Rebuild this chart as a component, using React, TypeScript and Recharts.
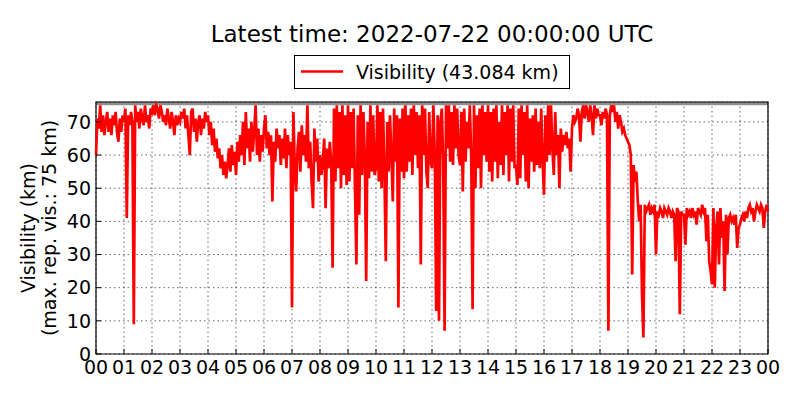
import {
  CartesianGrid,
  Legend,
  Line,
  LineChart,
  ReferenceArea,
  XAxis,
  YAxis,
} from "recharts";

// one reading every 3 minutes, 20 per hour
const STEP_MIN = 3;

const VIS_00_04 = [
  60, 71, 68, 75, 67, 72, 66, 70, 73, 67, 71, 66, 72, 69, 73, 67, 64, 71, 67, 72,
  70, 74, 41, 72, 69, 73, 70, 9, 75, 70, 73, 68, 74, 71, 69, 75, 70, 72, 68, 74,
  73, 75, 72, 75, 74, 71, 75, 73, 70, 72, 69, 74, 71, 68, 73, 70, 66, 72, 69, 71,
  70, 73, 71, 74, 68, 72, 66, 60, 73, 74, 67, 71, 64, 70, 72, 66, 71, 68, 73, 70,
];

const VIS_04_08 = [
  72, 66, 70, 63, 68, 61, 65, 59, 62, 56, 60, 54, 58, 53, 57, 62, 55, 63, 57, 61,
  54, 64, 58, 66, 60, 70, 57, 73, 62, 68, 58, 70, 61, 67, 75, 60, 68, 58, 66, 61,
  68, 72, 62, 67, 60, 66, 46, 64, 58, 68, 62, 66, 57, 65, 59, 68, 56, 66, 60, 64,
  14, 73, 56, 49, 62, 67, 55, 69, 60, 66, 58, 75, 56, 64, 52, 44, 68, 58, 65, 52,
];

const VIS_08_12 = [
  60, 54, 58, 65, 44, 62, 56, 64, 58, 26, 74, 52, 75, 56, 73, 50, 75, 54, 72, 51,
  75, 52, 73, 56, 74, 50, 27, 72, 42, 75, 54, 73, 60, 22, 70, 53, 75, 55, 72, 54,
  56, 75, 52, 73, 50, 74, 55, 28, 70, 55, 72, 60, 46, 74, 58, 72, 14, 71, 55, 74,
  53, 75, 55, 72, 58, 74, 54, 75, 60, 73, 56, 72, 27, 75, 60, 74, 55, 50, 73, 58,
];

const VIS_12_16 = [
  56, 75, 60, 13, 72, 10, 70, 74, 58, 7, 75, 62, 75, 58, 73, 57, 75, 62, 74, 60,
  57, 73, 49, 74, 58, 70, 62, 75, 60, 13.5, 75, 50, 72, 56, 74, 50, 75, 60, 73, 58,
  75, 55, 73, 52, 74, 58, 75, 53, 70, 57, 75, 54, 73, 60, 75, 52, 74, 58, 75, 56,
  57, 51, 74, 53, 75, 60, 73, 52, 75, 50, 71, 58, 72, 55, 74, 57, 70, 56, 74, 58,
];

const VIS_16_20 = [
  48, 72, 58, 75, 60, 75, 62, 54, 73, 60, 66, 50, 68, 61, 66, 63, 67, 62, 65, 55,
  68, 72, 70, 71, 74, 72, 64, 73, 75, 71, 75, 73, 70, 75, 72, 66, 75, 71, 74, 72,
  72, 69, 73, 71, 74, 72, 7, 72, 75, 73, 75, 70, 73, 68, 72, 70, 67, 68, 66, 65,
  64, 63, 60, 24, 57, 52, 55, 46, 40, 45, 18, 5, 45, 43, 44, 45, 42, 44, 43, 45,
];

const VIS_20_24 = [
  30, 43, 42, 44, 43, 41, 44, 43, 42, 44, 43, 41, 43, 42, 28, 44, 43, 12, 43, 42,
  42, 33, 44, 42, 43, 41, 44, 42, 43, 39, 44, 43, 42, 45, 43, 44, 34, 42, 28, 25,
  21, 44, 20, 38, 43, 27, 44, 35, 40, 19, 42, 30, 41, 42, 40, 41, 39, 42, 32, 38,
  39, 41, 42, 40, 43, 41, 44, 45, 43, 44, 40, 43, 45, 44, 43, 45, 44, 38, 43, 45,
];

// latest reading (24:00)
const VIS_END = 43.084;

const HOUR_TICKS = [
  0, 1, 2, 3, 4, 5, 6, 7, 8, 9, 10, 11, 12, 13, 14, 15, 16, 17, 18, 19, 20,
  21, 22, 23, 24,
];
const HOUR_LABELS = [
  "00", "01", "02", "03", "04", "05", "06", "07", "08", "09", "10", "11",
  "12", "13", "14", "15", "16", "17", "18", "19", "20", "21", "22", "23", "00",
];
const VIS_TICKS = [0, 10, 20, 30, 40, 50, 60, 70];

const Y_MAX = 76;
const MAX_REP_VIS = 75;

const TITLE = "Latest time: 2022-07-22 00:00:00 UTC";
const FONT = "'DejaVu Sans', sans-serif";
const RED = "#ff0000";

const SEGMENTS = [VIS_00_04, VIS_04_08, VIS_08_12, VIS_12_16, VIS_16_20, VIS_20_24];

function buildSeries() {
  const values = [...SEGMENTS.flat(), VIS_END];
  return values.map((v, i) => ({ hour: (i * STEP_MIN) / 60, vis: v }));
}

const data = buildSeries();

function YLabel({ viewBox }: { viewBox?: { x: number; y: number; width: number; height: number } }) {
  if (!viewBox) return null;
  const cy = viewBox.y + viewBox.height / 2;
  const x1 = viewBox.x + 34.5;
  const x2 = viewBox.x + 55.5;
  return (
    <g fontFamily={FONT} fontSize={19} fill="#000">
      <text x={x1} y={cy} textAnchor="middle" transform={`rotate(-90 ${x1} ${cy})`}>
        Visibility (km)
      </text>
      <text x={x2} y={cy} textAnchor="middle" transform={`rotate(-90 ${x2} ${cy})`}>
        (max. rep. vis.: {MAX_REP_VIS} km)
      </text>
    </g>
  );
}

function LegendBox() {
  return (
    <svg width={276} height={34} style={{ display: "block" }}>
      <rect x={0.5} y={0.5} width={275} height={33} fill="#fff" stroke="#000" />
      <line x1={7} x2={49} y1={16.5} y2={16.5} stroke={RED} strokeWidth={2.7} />
      <text x={62} y={24} fontSize={19} fontFamily={FONT} fill="#000">
        Visibility ({VIS_END.toFixed(3)} km)
      </text>
    </svg>
  );
}

export default function App() {
  const tickStyle = { fill: "#000", fontSize: 19, fontFamily: FONT };
  return (
    <div
      style={{
        position: "absolute",
        left: 0,
        top: 0,
        width: 800,
        height: 400,
        background: "#fff",
        fontFamily: FONT,
      }}
    >
      <svg
        width={800}
        height={60}
        style={{ position: "absolute", left: 0, top: 0, pointerEvents: "none" }}
      >
        <text x={432} y={42} textAnchor="middle" fontSize={23} fontFamily={FONT} fill="#000">
          {TITLE}
        </text>
      </svg>
      <LineChart
        width={800}
        height={400}
        data={data}
        margin={{ top: 102, right: 32, bottom: 0, left: 0 }}
      >
        <CartesianGrid stroke="#000" strokeWidth={0.6} strokeDasharray="1.5 3" />
        <XAxis
          dataKey="hour"
          type="number"
          domain={[0, 24]}
          ticks={HOUR_TICKS}
          interval={0}
          tickFormatter={(v: number) => HOUR_LABELS[v]}
          tick={tickStyle}
          tickSize={-5}
          tickMargin={12}
          tickLine={{ stroke: "#000" }}
          axisLine={false}
          height={46}
        />
        <XAxis
          xAxisId="top"
          orientation="top"
          dataKey="hour"
          type="number"
          domain={[0, 24]}
          ticks={HOUR_TICKS}
          interval={0}
          tick={false}
          tickSize={-5}
          tickLine={{ stroke: "#000" }}
          axisLine={false}
          height={0}
        />
        <YAxis
          type="number"
          domain={[0, Y_MAX]}
          ticks={VIS_TICKS}
          interval={0}
          tick={tickStyle}
          tickSize={-5}
          tickMargin={10}
          tickLine={{ stroke: "#000" }}
          axisLine={false}
          width={96}
          label={<YLabel />}
        />
        <YAxis
          yAxisId="right"
          orientation="right"
          type="number"
          domain={[0, Y_MAX]}
          ticks={VIS_TICKS}
          interval={0}
          tick={false}
          tickSize={-5}
          tickLine={{ stroke: "#000" }}
          axisLine={false}
          width={0}
        />
        <ReferenceArea
          x1={0}
          x2={24}
          y1={MAX_REP_VIS}
          y2={Y_MAX}
          fill="#8f8f8f"
          fillOpacity={1}
          stroke="none"
        />
        <Line
          type="linear"
          dataKey="vis"
          stroke={RED}
          strokeWidth={2.7}
          dot={false}
          activeDot={false}
          isAnimationActive={false}
        />
        <ReferenceArea
          x1={0}
          x2={24}
          y1={0}
          y2={Y_MAX}
          fill="none"
          fillOpacity={0}
          stroke="#000"
          strokeWidth={1.2}
        />
        <Legend
          layout="vertical"
          align="center"
          verticalAlign="middle"
          wrapperStyle={{ left: 294, top: 55, width: 276, height: 34 }}
          content={() => <LegendBox />}
        />
      </LineChart>
    </div>
  );
}
